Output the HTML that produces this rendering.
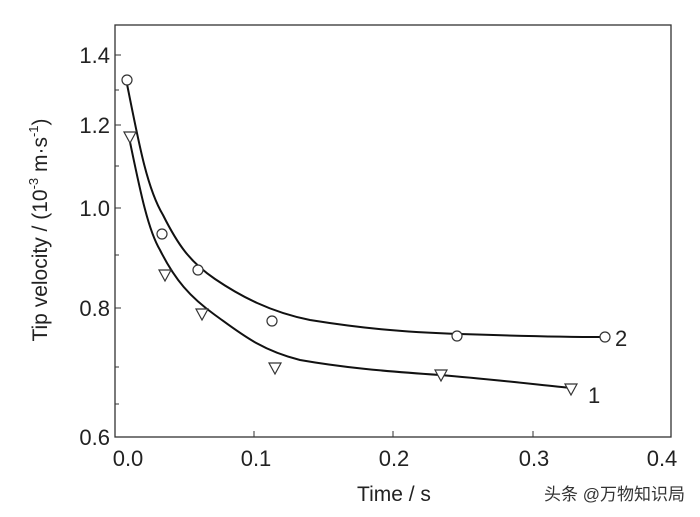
<!DOCTYPE html>
<html><head><meta charset="utf-8"><style>
body{margin:0;background:#fff}
svg{display:block}
text{font-family:"Liberation Sans",Arial,sans-serif;fill:#222}
</style></head><body>
<svg width="700" height="517" viewBox="0 0 700 517">
<rect x="115" y="25" width="556" height="412" fill="none" stroke="#333" stroke-width="1.3"/>
<g stroke="#333" stroke-width="1">
<line x1="115" y1="55" x2="121" y2="55"/><line x1="115" y1="125" x2="121" y2="125"/><line x1="115" y1="208" x2="121" y2="208"/><line x1="115" y1="308" x2="121" y2="308"/>
<line x1="115" y1="90" x2="119" y2="90"/><line x1="115" y1="166" x2="119" y2="166"/><line x1="115" y1="255" x2="119" y2="255"/><line x1="115" y1="367" x2="119" y2="367"/><line x1="115" y1="404" x2="119" y2="404"/>
<line x1="254" y1="437" x2="254" y2="431"/><line x1="393" y1="437" x2="393" y2="431"/><line x1="533" y1="437" x2="533" y2="431"/>
</g>
<g font-size="22" text-anchor="end">
<text x="110" y="63">1.4</text><text x="110" y="133">1.2</text><text x="110" y="216">1.0</text><text x="110" y="316">0.8</text><text x="110" y="445">0.6</text>
</g>
<g font-size="22" text-anchor="middle">
<text x="128" y="466">0.0</text><text x="256" y="466">0.1</text><text x="394" y="466">0.2</text><text x="534" y="466">0.3</text><text x="662" y="466">0.4</text>
</g>
<text x="394" y="501" font-size="21" text-anchor="middle">Time / s</text>
<text transform="translate(47,230) rotate(-90)" font-size="21" text-anchor="middle">Tip velocity / (10<tspan dy="-9" font-size="13">-3</tspan><tspan dy="9"> m·s</tspan><tspan dy="-9" font-size="13">-1</tspan><tspan dy="9">)</tspan></text>
<g fill="none" stroke="#111" stroke-width="2">
<path d="M127,84 C140,150 148,190 163,215 C178,245 190,262 215,279 C240,296 270,312 310,320 C360,328 400,332 460,334 C520,336 560,337 603,337"/>
<path d="M130,142 C140,190 148,230 160,250 C175,280 190,297 215,315 C240,333 260,350 300,360 C340,367 380,371 440,375 C500,380 540,385 571,388"/>
</g>
<g fill="#fff" stroke="#333" stroke-width="1.2">
<circle cx="127" cy="80" r="5"/><circle cx="162" cy="234" r="5"/><circle cx="198" cy="270" r="5"/><circle cx="272" cy="321" r="5"/><circle cx="457" cy="336" r="5"/><circle cx="605" cy="337" r="5"/>
<path d="M124,132 L136,132 L130,143 Z"/><path d="M159,270 L171,270 L165,281 Z"/><path d="M196,309 L208,309 L202,320 Z"/><path d="M269,363 L281,363 L275,374 Z"/><path d="M435,370 L447,370 L441,381 Z"/><path d="M565,384 L577,384 L571,395 Z"/>
</g>
<text x="615" y="346" font-size="22">2</text>
<text x="588" y="403" font-size="22">1</text>
<text x="685" y="500" font-size="17" text-anchor="end" style='font-family:"Liberation Sans","Noto Sans CJK SC",sans-serif;fill:#333'>头条 @万物知识局</text>
</svg>
</body></html>
